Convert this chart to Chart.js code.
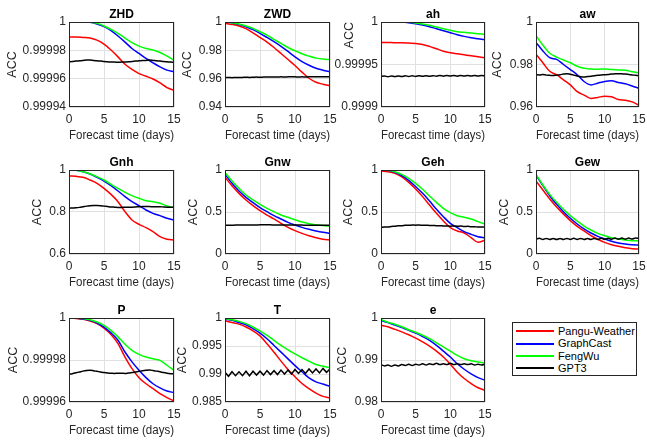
<!DOCTYPE html>
<html lang="en">
<head>
    <meta charset="UTF-8">
    <title>ACC vs forecast time</title>
    <script src="https://cdn.jsdelivr.net/npm/chart.js"></script>
    <style>
        body { margin: 0; background: #fff; }
        #page { position: relative; width: 647px; height: 441px; overflow: hidden; background: #fff; }
        #page canvas { position: absolute; }
        #legend {
            position: absolute; left: 512px; top: 322px; width: 125px; height: 54px;
            box-sizing: border-box; border: 1px solid #262626; background: #fff;
            padding: 2px 0 0 3px;
            font-family: 'Liberation Sans', Arial, sans-serif; font-size: 11px; color: #000;
        }
        #legend .item { height: 12.4px; line-height: 12.4px; white-space: nowrap; display: flex; align-items: center; }
        #legend .swatch { display: inline-block; width: 38px; height: 2px; margin-right: 4px; }
    </style>
</head>
<body>
<div id="page">
    <div id="legend"></div>
</div>
<script>
    // forecast lead times (days)
    const days = [0, 1, 2, 3, 4, 5, 6, 7, 8, 9, 10, 11, 12, 13, 14, 15];
    const halfDays = [0, 0.5, 1, 1.5, 2, 2.5, 3, 3.5, 4, 4.5, 5, 5.5, 6, 6.5, 7, 7.5,
        8, 8.5, 9, 9.5, 10, 10.5, 11, 11.5, 12, 12.5, 13, 13.5, 14, 14.5, 15];
    const xTicks = [0, 5, 10, 15];
    const xTickLabels = ['0', '5', '10', '15'];
    const seriesNames = ['Pangu-Weather', 'GraphCast', 'FengWu', 'GPT3'];

    // ZHD
    const zhdPangu = [0.9999894, 0.9999894, 0.9999891, 0.9999887, 0.9999872, 0.9999844, 0.9999802, 0.9999754, 0.9999702, 0.9999665, 0.9999636, 0.9999617, 0.9999598, 0.999957, 0.9999537, 0.9999518];
    const zhdGraphCast = [1, 1, 1, 0.9999998, 0.9999986, 0.9999967, 0.9999939, 0.9999901, 0.9999858, 0.9999813, 0.9999778, 0.9999743, 0.9999712, 0.9999683, 0.999966, 0.9999648];
    const zhdFengWu = [1, 1, 1, 0.9999998, 0.9999991, 0.9999972, 0.9999948, 0.999992, 0.9999887, 0.9999854, 0.999983, 0.9999813, 0.9999802, 0.9999785, 0.9999759, 0.9999731];
    const zhdGpt3 = [0.9999719, 0.9999721, 0.9999724, 0.9999726, 0.9999728, 0.9999731, 0.9999731, 0.9999728, 0.9999726, 0.9999724, 0.9999721, 0.9999719, 0.9999717, 0.9999717, 0.9999716, 0.9999717, 0.9999718, 0.9999719, 0.9999721, 0.9999724, 0.9999726, 0.9999728, 0.9999729, 0.9999731, 0.9999729, 0.9999726, 0.9999724, 0.9999721, 0.9999719, 0.9999717, 0.9999716];
    const zhdTicks = [0.99994, 0.99996, 0.99998, 1];
    const zhdTickLabels = ['0.99994', '0.99996', '0.99998', '1'];

    // ZWD
    const zwdPangu = [0.9991, 0.9983, 0.9972, 0.9953, 0.9924, 0.9891, 0.9858, 0.982, 0.9778, 0.9735, 0.9693, 0.9646, 0.9603, 0.9575, 0.9561, 0.9551];
    const zwdGraphCast = [1, 0.9995, 0.9983, 0.9967, 0.9946, 0.992, 0.9891, 0.9861, 0.9828, 0.9792, 0.9754, 0.9721, 0.9695, 0.9674, 0.966, 0.9648];
    const zwdFengWu = [1, 0.9995, 0.9986, 0.9972, 0.9955, 0.9932, 0.9908, 0.9877, 0.9849, 0.982, 0.9797, 0.9776, 0.9759, 0.9745, 0.9738, 0.9735];
    const zwdGpt3 = [0.9607, 0.9608, 0.9607, 0.9609, 0.9608, 0.9609, 0.961, 0.9609, 0.961, 0.9611, 0.961, 0.9611, 0.9612, 0.9611, 0.9612, 0.9612, 0.9613, 0.9612, 0.9613, 0.9614, 0.9613, 0.9612, 0.9613, 0.9612, 0.9613, 0.9614, 0.9613, 0.9614, 0.9613, 0.9614, 0.9614];
    const zwdTicks = [0.94, 0.96, 0.98, 1];
    const zwdTickLabels = ['0.94', '0.96', '0.98', '1'];

    // ah
    const ahPangu = [0.999976, 0.999976, 0.9999756, 0.9999756, 0.9999752, 0.9999748, 0.9999736, 0.9999713, 0.9999685, 0.9999657, 0.9999638, 0.9999626, 0.9999614, 0.9999602, 0.9999591, 0.9999579];
    const ahGraphCast = [1, 1, 1, 1, 0.9999992, 0.999998, 0.9999965, 0.9999945, 0.9999921, 0.9999898, 0.9999874, 0.999985, 0.9999831, 0.9999815, 0.9999803, 0.9999791];
    const ahFengWu = [1, 1, 1, 1, 0.9999996, 0.9999988, 0.9999976, 0.9999961, 0.9999941, 0.9999921, 0.9999902, 0.9999886, 0.9999878, 0.999987, 0.9999862, 0.9999854];
    const ahGpt3 = [0.9999358, 0.9999365, 0.9999356, 0.9999365, 0.9999357, 0.9999366, 0.9999358, 0.9999367, 0.9999359, 0.9999367, 0.999936, 0.9999368, 0.9999361, 0.9999369, 0.9999362, 0.9999369, 0.9999363, 0.999937, 0.9999363, 0.9999371, 0.9999364, 0.999937, 0.9999363, 0.9999371, 0.9999364, 0.9999371, 0.9999365, 0.9999372, 0.9999365, 0.9999371, 0.9999365];
    const ahTicks = [0.9999, 0.99995, 1];
    const ahTickLabels = ['0.9999', '0.99995', '1'];

    // aw
    const awPangu = [0.9848, 0.9808, 0.9768, 0.9752, 0.9728, 0.9704, 0.9672, 0.9656, 0.964, 0.9645, 0.9651, 0.9648, 0.9635, 0.9632, 0.9624, 0.9608];
    const awGraphCast = [0.9904, 0.9864, 0.9832, 0.9824, 0.98, 0.9776, 0.9752, 0.972, 0.9704, 0.9712, 0.972, 0.9723, 0.9715, 0.9709, 0.9699, 0.9688];
    const awFengWu = [0.9936, 0.9891, 0.9853, 0.9835, 0.9821, 0.9808, 0.9792, 0.9782, 0.9779, 0.9778, 0.9779, 0.9776, 0.9774, 0.9773, 0.9766, 0.976];
    const awGpt3 = [0.9752, 0.9751, 0.9753, 0.975, 0.9749, 0.9748, 0.975, 0.9752, 0.9755, 0.9757, 0.9754, 0.975, 0.9746, 0.9742, 0.9741, 0.9743, 0.9745, 0.9747, 0.9749, 0.9751, 0.9752, 0.9753, 0.9755, 0.9756, 0.9757, 0.9756, 0.9755, 0.9753, 0.9751, 0.9749, 0.9747];
    const awTicks = [0.96, 0.98, 1];
    const awTickLabels = ['0.96', '0.98', '1'];

    // Gnh
    const gnhPangu = [0.9714, 0.9698, 0.9651, 0.9524, 0.9365, 0.9127, 0.8841, 0.8492, 0.8016, 0.7619, 0.7413, 0.7254, 0.7064, 0.6826, 0.6699, 0.6667];
    const gnhGraphCast = [1, 0.9984, 0.9921, 0.981, 0.9651, 0.9476, 0.9254, 0.9, 0.873, 0.8492, 0.8302, 0.8096, 0.7937, 0.7826, 0.7699, 0.762];
    const gnhFengWu = [1, 0.9984, 0.9921, 0.9825, 0.9683, 0.9524, 0.9318, 0.9127, 0.8937, 0.8778, 0.8651, 0.854, 0.8492, 0.8413, 0.8286, 0.8207];
    const gnhGpt3 = [0.818, 0.819, 0.82, 0.822, 0.825, 0.828, 0.83, 0.831, 0.831, 0.83, 0.828, 0.826, 0.824, 0.823, 0.822, 0.822, 0.823, 0.823, 0.823, 0.824, 0.825, 0.826, 0.826, 0.826, 0.825, 0.825, 0.825, 0.824, 0.823, 0.823, 0.823];
    const gnhTicks = [0.6, 0.8, 1];
    const gnhTickLabels = ['0.6', '0.8', '1'];

    // Gnw
    const gnwPangu = [0.913, 0.813, 0.722, 0.643, 0.575, 0.516, 0.464, 0.417, 0.365, 0.317, 0.278, 0.246, 0.218, 0.194, 0.175, 0.167];
    const gnwGraphCast = [0.948, 0.841, 0.75, 0.675, 0.611, 0.552, 0.504, 0.456, 0.417, 0.377, 0.345, 0.317, 0.294, 0.274, 0.258, 0.246];
    const gnwFengWu = [0.972, 0.869, 0.782, 0.702, 0.643, 0.591, 0.544, 0.504, 0.464, 0.437, 0.408, 0.382, 0.36, 0.347, 0.338, 0.333];
    const gnwGpt3 = [0.342, 0.343, 0.343, 0.344, 0.344, 0.345, 0.345, 0.346, 0.346, 0.346, 0.347, 0.347, 0.347, 0.347, 0.346, 0.346, 0.346, 0.345, 0.345, 0.345, 0.344, 0.344, 0.344, 0.343, 0.343, 0.343, 0.342, 0.342, 0.341, 0.341, 0.341];
    const gnwTicks = [0, 0.5, 1];
    const gnwTickLabels = ['0', '0.5', '1'];

    // Geh
    const gehPangu = [0.988, 0.98, 0.96, 0.917, 0.853, 0.774, 0.683, 0.583, 0.484, 0.393, 0.313, 0.274, 0.25, 0.195, 0.14, 0.165];
    const gehGraphCast = [1, 0.996, 0.972, 0.933, 0.877, 0.802, 0.722, 0.631, 0.532, 0.444, 0.365, 0.313, 0.266, 0.234, 0.206, 0.194];
    const gehFengWu = [1, 0.996, 0.98, 0.948, 0.901, 0.841, 0.77, 0.69, 0.615, 0.544, 0.492, 0.456, 0.437, 0.417, 0.385, 0.357];
    const gehGpt3 = [0.318, 0.322, 0.32, 0.328, 0.33, 0.336, 0.336, 0.342, 0.341, 0.345, 0.343, 0.345, 0.342, 0.343, 0.34, 0.34, 0.336, 0.337, 0.333, 0.334, 0.331, 0.334, 0.33, 0.332, 0.327, 0.329, 0.324, 0.325, 0.321, 0.322, 0.32];
    const gehTicks = [0, 0.5, 1];
    const gehTickLabels = ['0', '0.5', '1'];

    // Gew
    const gewPangu = [0.869, 0.762, 0.655, 0.56, 0.476, 0.397, 0.329, 0.274, 0.218, 0.175, 0.139, 0.111, 0.091, 0.075, 0.063, 0.06];
    const gewGraphCast = [0.94, 0.813, 0.694, 0.591, 0.504, 0.425, 0.357, 0.298, 0.25, 0.21, 0.179, 0.151, 0.131, 0.119, 0.111, 0.107];
    const gewFengWu = [0.948, 0.821, 0.71, 0.615, 0.532, 0.456, 0.393, 0.333, 0.286, 0.246, 0.218, 0.194, 0.179, 0.167, 0.159, 0.159];
    const gewGpt3 = [0.176, 0.188, 0.174, 0.186, 0.173, 0.185, 0.172, 0.185, 0.173, 0.186, 0.174, 0.187, 0.174, 0.186, 0.173, 0.185, 0.173, 0.186, 0.174, 0.187, 0.175, 0.188, 0.176, 0.189, 0.177, 0.189, 0.177, 0.189, 0.178, 0.19, 0.186];
    const gewTicks = [0, 0.5, 1];
    const gewTickLabels = ['0', '0.5', '1'];

    // P
    const pPangu = [1, 0.9999998, 0.9999994, 0.9999986, 0.9999973, 0.9999952, 0.9999921, 0.9999878, 0.9999814, 0.9999759, 0.9999716, 0.9999687, 0.9999664, 0.999964, 0.9999621, 0.9999605];
    const pGraphCast = [1, 1, 0.9999995, 0.9999989, 0.9999976, 0.9999957, 0.9999929, 0.9999894, 0.9999838, 0.9999791, 0.9999751, 0.9999716, 0.9999687, 0.9999667, 0.9999652, 0.9999645];
    const pFengWu = [1, 1, 0.9999997, 0.9999992, 0.9999981, 0.9999965, 0.9999941, 0.999991, 0.9999875, 0.9999846, 0.9999827, 0.9999814, 0.9999806, 0.9999798, 0.9999775, 0.9999751];
    const pGpt3 = [0.9999732, 0.9999735, 0.9999739, 0.9999743, 0.9999747, 0.999975, 0.9999751, 0.9999749, 0.9999746, 0.9999743, 0.999974, 0.9999738, 0.9999737, 0.9999736, 0.9999737, 0.9999737, 0.9999736, 0.9999738, 0.999974, 0.9999743, 0.9999746, 0.9999749, 0.9999751, 0.9999752, 0.999975, 0.9999747, 0.9999744, 0.999974, 0.9999737, 0.9999735, 0.9999734];
    const pTicks = [0.99996, 0.99998, 1];
    const pTickLabels = ['0.99996', '0.99998', '1'];

    // T
    const tPangu = [0.9995, 0.9992, 0.9989, 0.9984, 0.9977, 0.9968, 0.9954, 0.9939, 0.9923, 0.9908, 0.9895, 0.9883, 0.9874, 0.9866, 0.986, 0.9857];
    const tGraphCast = [0.9998, 0.9996, 0.9992, 0.9988, 0.9981, 0.9973, 0.9963, 0.9951, 0.9939, 0.9927, 0.9915, 0.9904, 0.9893, 0.9886, 0.9882, 0.9878];
    const tFengWu = [0.9999, 0.9997, 0.9994, 0.999, 0.9984, 0.9977, 0.9969, 0.996, 0.9951, 0.9943, 0.9936, 0.9929, 0.9923, 0.9917, 0.9914, 0.9911];
    const tGpt3 = [0.9903, 0.9896, 0.9904, 0.9897, 0.9904, 0.9897, 0.9905, 0.9897, 0.9905, 0.9898, 0.9905, 0.9898, 0.9906, 0.9899, 0.9906, 0.9899, 0.9907, 0.99, 0.9907, 0.99, 0.9908, 0.9901, 0.9908, 0.9901, 0.9909, 0.9902, 0.9909, 0.9902, 0.991, 0.9903, 0.9909];
    const tTicks = [0.985, 0.99, 0.995, 1];
    const tTickLabels = ['0.985', '0.99', '0.995', '1'];

    // e
    const ePangu = [0.9983, 0.9979, 0.9973, 0.9967, 0.996, 0.9952, 0.9943, 0.9933, 0.9921, 0.9907, 0.989, 0.9871, 0.9856, 0.9844, 0.9834, 0.9828];
    const eGraphCast = [0.9994, 0.9989, 0.9983, 0.9977, 0.9971, 0.9964, 0.9956, 0.9947, 0.9935, 0.9921, 0.9907, 0.9891, 0.9878, 0.9867, 0.9858, 0.9852];
    const eFengWu = [0.9996, 0.999, 0.9985, 0.9979, 0.9972, 0.9966, 0.9959, 0.9951, 0.9941, 0.9931, 0.9921, 0.9911, 0.9903, 0.9898, 0.9895, 0.9893];
    const eGpt3 = [0.9889, 0.9886, 0.9888, 0.9885, 0.9888, 0.9886, 0.9889, 0.9887, 0.989, 0.9887, 0.989, 0.9888, 0.9891, 0.9888, 0.9891, 0.9889, 0.9892, 0.9889, 0.9891, 0.9889, 0.9892, 0.9889, 0.9891, 0.9889, 0.9891, 0.9889, 0.9891, 0.9888, 0.989, 0.9888, 0.989];
    const eTicks = [0.98, 0.99, 1];
    const eTickLabels = ['0.98', '0.99', '1'];

    const FONT = "'Liberation Sans', Arial, sans-serif";
    const AXIS = '#262626';
    const GRID = '#e0e0e0';
    const COLORS = ['#ff0000', '#0000ff', '#00ff00', '#000000'];

    // left/top = plot area corner on the page, yGap = distance of "ACC" centre from the axis
    const panels = [
        { title: 'ZHD', left: 69,  top: 22,  width: 105, height: 85, yGap: 56, ticks: zhdTicks, labels: zhdTickLabels, series: [zhdPangu, zhdGraphCast, zhdFengWu, zhdGpt3] },
        { title: 'ZWD', left: 225, top: 22,  width: 105, height: 85, yGap: 37, ticks: zwdTicks, labels: zwdTickLabels, series: [zwdPangu, zwdGraphCast, zwdFengWu, zwdGpt3] },
        { title: 'ah',  left: 381, top: 22,  width: 104, height: 85, yGap: 31, ticks: ahTicks,  labels: ahTickLabels,  series: [ahPangu, ahGraphCast, ahFengWu, ahGpt3], yTitleAlign: 'end' },
        { title: 'aw',  left: 536, top: 22,  width: 103, height: 85, yGap: 38, ticks: awTicks,  labels: awTickLabels,  series: [awPangu, awGraphCast, awFengWu, awGpt3] },
        { title: 'Gnh', left: 69,  top: 170, width: 105, height: 84, yGap: 31, ticks: gnhTicks, labels: gnhTickLabels, series: [gnhPangu, gnhGraphCast, gnhFengWu, gnhGpt3] },
        { title: 'Gnw', left: 225, top: 170, width: 105, height: 84, yGap: 31, ticks: gnwTicks, labels: gnwTickLabels, series: [gnwPangu, gnwGraphCast, gnwFengWu, gnwGpt3] },
        { title: 'Geh', left: 381, top: 170, width: 104, height: 84, yGap: 32, ticks: gehTicks, labels: gehTickLabels, series: [gehPangu, gehGraphCast, gehFengWu, gehGpt3] },
        { title: 'Gew', left: 536, top: 170, width: 103, height: 84, yGap: 31, ticks: gewTicks, labels: gewTickLabels, series: [gewPangu, gewGraphCast, gewFengWu, gewGpt3] },
        { title: 'P',   left: 69,  top: 318, width: 105, height: 84, yGap: 55, ticks: pTicks,   labels: pTickLabels,   series: [pPangu, pGraphCast, pFengWu, pGpt3] },
        { title: 'T',   left: 225, top: 318, width: 105, height: 84, yGap: 42, ticks: tTicks,   labels: tTickLabels,   series: [tPangu, tGraphCast, tFengWu, tGpt3], sharpGpt3: true },
        { title: 'e',   left: 381, top: 318, width: 104, height: 84, yGap: 38, ticks: eTicks,   labels: eTickLabels,   series: [ePangu, eGraphCast, eFengWu, eGpt3] }
    ];

    // closed axes box like matlab's "box on"
    const boxPlugin = {
        id: 'axesBox',
        afterDraw(chart) {
            const { ctx, chartArea: a } = chart;
            ctx.save();
            ctx.strokeStyle = AXIS;
            ctx.lineWidth = 1;
            ctx.strokeRect(Math.round(a.left) + 0.5, Math.round(a.top) + 0.5, Math.round(a.width) - 1, Math.round(a.height) - 1);
            ctx.restore();
        }
    };

    const page = document.getElementById('page');
    // yAxisW is wide enough for the longest tick label; the ACC title is pushed in with padding
    const padL = 12, padR = 12, titleH = 17, xAxisH = 36, yAxisW = 64, yTitleHalf = 7.5;

    panels.forEach(p => {
        const w = padL + yAxisW + p.width + padR;
        const h = titleH + p.height + xAxisH;
        const canvas = document.createElement('canvas');
        canvas.width = w;
        canvas.height = h;
        canvas.style.width = w + 'px';
        canvas.style.height = h + 'px';
        canvas.style.left = (p.left - yAxisW - padL) + 'px';
        canvas.style.top = (p.top - titleH) + 'px';
        page.appendChild(canvas);

        // GPT3 first so it is drawn on top, as in the original figure
        const datasets = [3, 2, 1, 0].map(k => {
            const ys = p.series[k];
            const xs = k === 3 ? halfDays : days;
            const ds = {
                label: seriesNames[k],
                data: ys.map((y, i) => ({ x: xs[i], y: y })),
                borderColor: COLORS[k],
                borderWidth: 1.5,
                fill: false,
                pointRadius: 0
            };
            if (k === 3 && p.sharpGpt3) ds.tension = 0;
            else ds.cubicInterpolationMode = 'monotone';
            return ds;
        });

        new Chart(canvas, {
            type: 'line',
            data: { datasets: datasets },
            options: {
                responsive: false,
                animation: false,
                devicePixelRatio: 1,
                layout: { padding: { left: padL, right: padR, top: 0, bottom: 0 } },
                plugins: {
                    legend: { display: false },
                    tooltip: { enabled: false },
                    title: {
                        display: true,
                        fullSize: false,
                        text: p.title,
                        color: '#000',
                        font: { family: FONT, size: 12, weight: 'bold', lineHeight: 1 },
                        padding: { top: 4, bottom: 1 }
                    }
                },
                scales: {
                    x: {
                        type: 'linear',
                        min: xTicks[0],
                        max: xTicks[xTicks.length - 1],
                        afterBuildTicks: axis => { axis.ticks = xTicks.map(v => ({ value: v })); },
                        afterFit: axis => { axis.height = xAxisH; },
                        ticks: {
                            color: AXIS, font: { family: FONT, size: 12 }, padding: 5,
                            maxRotation: 0, autoSkip: false,
                            callback: (v, i) => xTickLabels[i]
                        },
                        grid: { color: GRID, drawTicks: false },
                        border: { display: false },
                        title: { display: true, text: 'Forecast time (days)', color: AXIS, font: { family: FONT, size: 12.5 }, padding: 0 }
                    },
                    y: {
                        type: 'linear',
                        min: p.ticks[0],
                        max: p.ticks[p.ticks.length - 1],
                        afterBuildTicks: axis => { axis.ticks = p.ticks.map(v => ({ value: v })); },
                        afterFit: axis => { axis.width = yAxisW; },
                        ticks: {
                            color: AXIS, font: { family: FONT, size: 12 }, padding: 3,
                            autoSkip: false,
                            callback: (v, i) => p.labels[i]
                        },
                        grid: { color: GRID, drawTicks: false },
                        border: { display: false },
                        title: {
                            display: true, text: 'ACC', color: AXIS,
                            align: p.yTitleAlign || 'center',
                            font: { family: FONT, size: 12.5 },
                            padding: { top: yAxisW - yTitleHalf - p.yGap, bottom: 0 }
                        }
                    }
                }
            },
            plugins: [boxPlugin]
        });
    });

    // legend box
    const legend = document.getElementById('legend');
    seriesNames.forEach((name, k) => {
        const item = document.createElement('div');
        item.className = 'item';
        const sw = document.createElement('span');
        sw.className = 'swatch';
        sw.style.background = COLORS[k];
        item.appendChild(sw);
        item.appendChild(document.createTextNode(name));
        legend.appendChild(item);
    });
</script>
</body>
</html>
